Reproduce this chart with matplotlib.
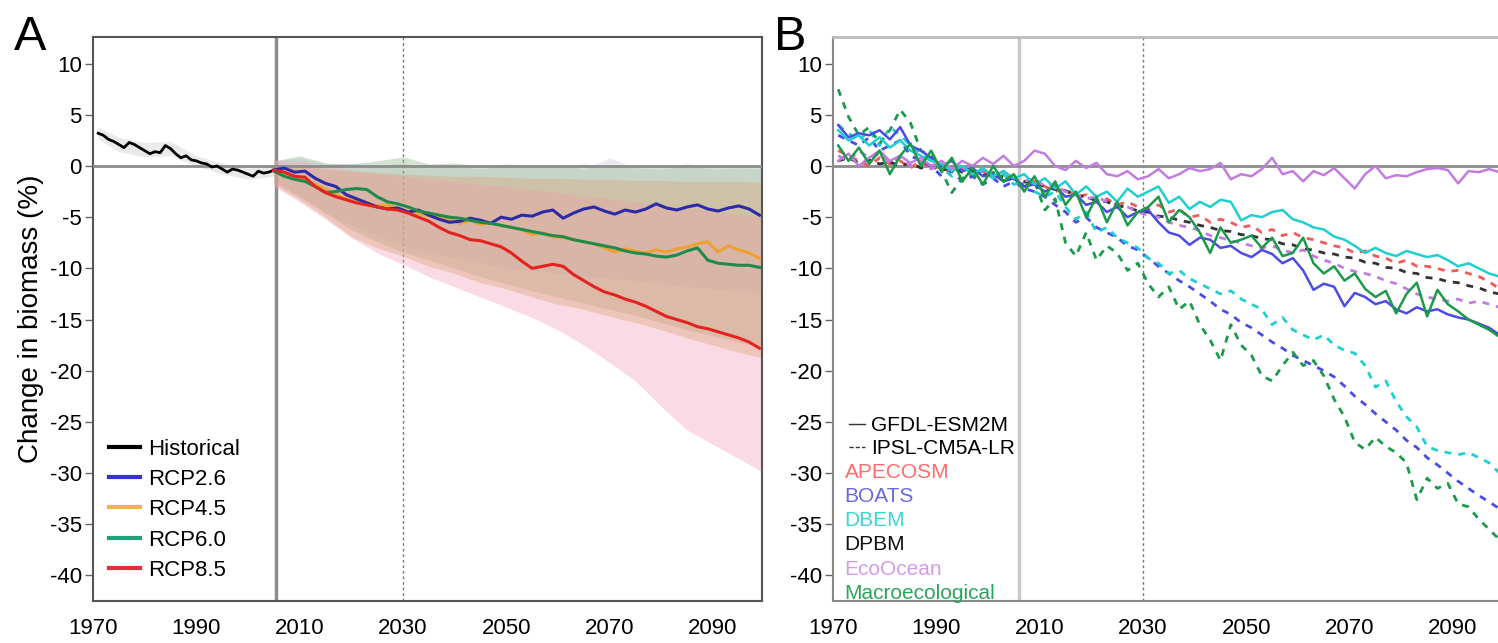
import numpy as np
import matplotlib
matplotlib.use("Agg")
import matplotlib.pyplot as plt
from matplotlib.lines import Line2D

plt.rcParams['font.family'] = ['Liberation Sans', 'DejaVu Sans']
plt.rcParams['axes.unicode_minus'] = False

# ---------------- Panel A data ----------------
hist_years = np.arange(1971, 2006)
hist = [3.2, 3.0, 2.6, 2.4, 2.1, 1.8, 2.3, 2.1, 1.8, 1.5,
        1.2, 1.4, 1.3, 2.0, 1.7, 1.2, 0.8, 1.0, 0.6, 0.5,
        0.3, 0.2, -0.1, 0.0, -0.3, -0.6, -0.3, -0.4, -0.6, -0.8,
        -1.0, -0.5, -0.7, -0.6, -0.4]
hist_band_years = [1971, 1975, 1980, 1985, 1990, 1995, 2000, 2005]
hist_upper = [3.8, 2.8, 2.3, 2.4, 1.0, 0.3, -0.2, 0.2]
hist_lower = [2.6, 1.4, 0.9, 1.0, 0.0, -0.8, -1.3, -1.0]

rcp_years = np.arange(2005, 2100, 2)
rcp26 = [-0.4, -0.2, -0.6, -0.5, -1.2, -1.7, -2.0, -2.8, -3.2, -3.6,
         -4.0, -4.2, -4.1, -4.5, -4.3, -4.8, -5.2, -5.5, -5.4, -5.1,
         -5.3, -5.6, -5.0, -5.2, -4.8, -4.9, -4.5, -4.3, -5.1, -4.6,
         -4.2, -4.0, -4.4, -4.7, -4.3, -4.5, -4.2, -3.7, -4.1, -4.3,
         -4.0, -3.8, -4.2, -4.4, -4.1, -3.9, -4.2, -4.8]
rcp45 = [-0.4, -0.8, -1.0, -1.5, -1.8, -2.3, -2.8, -3.2, -3.4, -3.6,
         -3.9, -3.8, -4.2, -4.5, -4.6, -4.9, -5.0, -5.2, -5.6, -5.3,
         -5.7, -5.5, -5.8, -6.0, -6.2, -6.7, -6.5, -6.9, -7.0, -7.2,
         -7.4, -7.6, -8.0, -8.4, -8.1, -8.3, -8.5, -8.2, -8.4, -8.1,
         -7.9, -7.6, -7.4, -8.4, -7.8, -8.2, -8.5, -9.0]
rcp60 = [-0.5, -1.0, -1.3, -1.5, -2.0, -2.6, -2.5, -2.3, -2.2, -2.3,
         -3.0, -3.5, -3.7, -4.0, -4.4, -4.6, -4.8, -5.0, -5.1, -5.3,
         -5.5, -5.6, -5.8, -6.0, -6.2, -6.4, -6.6, -6.8, -6.9, -7.2,
         -7.4, -7.6, -7.8, -8.0, -8.3, -8.5, -8.6, -8.8, -8.9, -8.7,
         -8.3, -8.0, -9.2, -9.5, -9.6, -9.7, -9.7, -9.9]
rcp85 = [-0.4, -0.6, -1.0, -1.1, -2.0, -2.6, -3.0, -3.3, -3.6, -3.8,
         -4.0, -4.2, -4.3, -4.6, -5.0, -5.4, -6.0, -6.5, -6.8, -7.2,
         -7.3, -7.6, -7.9, -8.5, -9.3, -10.0, -9.8, -9.6, -9.8, -10.6,
         -11.2, -11.8, -12.3, -12.6, -13.0, -13.3, -13.7, -14.2, -14.7, -15.0,
         -15.3, -15.7, -15.9, -16.2, -16.5, -16.8, -17.2, -17.8]

band_years = np.arange(2005, 2101, 5)
rcp26_up = [0.5, 0.8, 0.2, 0.3, 0.0, 0.3, -0.2, 0.0, -0.3, 0.0,
            -0.2, 0.2, -0.3, 0.8, -0.2, -0.3, 0.0, -0.3, -0.2, -0.3]
rcp26_lo = [-1.5, -3.0, -4.5, -5.8, -6.8, -7.8, -8.5, -9.0, -9.5, -10.0,
            -10.2, -10.5, -10.8, -11.0, -11.2, -11.5, -11.8, -12.0, -12.2, -12.5]
rcp45_up = [0.2, 0.0, -0.3, -0.5, -0.6, -0.8, -0.9, -1.0, -1.0, -1.1,
            -1.2, -1.2, -1.3, -1.3, -1.4, -1.4, -1.5, -1.5, -1.5, -1.6]
rcp45_lo = [-1.8, -3.3, -5.0, -6.9, -8.0, -8.8, -9.8, -10.5, -11.4, -12.0,
            -12.8, -13.5, -14.0, -14.7, -15.3, -16.0, -16.8, -17.5, -18.2, -18.8]
rcp60_up = [0.5, 1.0, 0.3, 0.2, 0.5, 0.9, 0.2, 0.3, 0.0, 0.2,
            0.1, 0.0, 0.2, 0.0, 0.1, 0.0, 0.2, 0.0, 0.1, 0.0]
rcp60_lo = [-1.6, -3.0, -4.6, -6.2, -7.4, -8.4, -9.2, -10.0, -10.8, -11.5,
            -12.2, -12.8, -13.4, -14.0, -14.6, -15.3, -16.0, -16.6, -17.2, -17.8]
rcp85_up = [0.6, 0.5, 0.0, -0.4, -0.8, -1.0, -1.3, -1.5, -1.8, -2.0,
            -2.3, -2.6, -2.9, -3.2, -3.5, -3.8, -4.1, -4.4, -4.7, -5.0]
rcp85_lo = [-2.0, -3.5, -5.2, -7.0, -8.5, -9.6, -10.8, -11.8, -12.8, -13.8,
            -14.8, -16.0, -17.5, -19.2, -21.0, -23.5, -25.8, -27.2, -28.6, -30.0]

# ---------------- Panel B data (2-year steps) ----------------
b_years = np.arange(1971, 2100, 2)
# GFDL-ESM2M forced (solid)
boats_gfdl = [4.0, 2.8, 3.2, 3.0, 3.5, 2.6, 3.8, 2.0, 1.5, 0.8,
              0.0, 0.5, -0.5, -0.2, -1.0, -0.8, -1.5, -1.2, -2.0, -1.8,
              -2.5, -2.0, -3.0, -2.8, -3.8, -3.5, -4.5, -4.0, -5.0, -4.5,
              -4.3, -5.5, -6.5, -6.8, -7.7, -7.0, -7.2, -8.0, -7.8, -8.5,
              -8.9, -8.2, -8.6, -9.5, -9.0, -10.2, -12.1, -11.5, -11.8, -13.7,
              -12.4, -12.8, -13.5, -13.2, -14.0, -14.4, -13.8, -14.2, -14.0, -14.5,
              -14.8, -15.0, -15.4, -15.8, -16.5]
dbem_gfdl = [3.5, 2.5, 3.0, 2.0, 2.8, 1.8, 2.5, 1.5, 1.0, 0.5,
             0.2, -0.5, 0.0, -0.8, -0.2, -1.0, -0.5, -1.2, -0.8, -1.8,
             -1.2, -2.2, -1.5, -2.8, -2.0, -3.0, -2.5, -3.5, -2.2, -3.0,
             -2.5, -2.0, -3.6, -3.0, -4.2, -3.5, -4.0, -3.3, -3.5, -5.3,
             -4.8, -5.0, -4.5, -4.3, -5.2, -5.5, -6.0, -6.2, -6.9, -7.2,
             -7.8, -8.5, -8.0, -8.5, -8.8, -8.3, -8.6, -8.9, -8.7, -9.2,
             -9.8, -9.5, -10.0, -10.5, -10.8]
eco_gfdl = [0.5, 1.2, 0.0, 0.8, 1.5, 0.5, 1.0, 0.3, 0.8, 0.0,
            0.5, -0.3, 0.5, 0.0, 0.8, 0.2, 1.0, 0.0, 0.5, 1.5,
            1.2, 0.0, -0.4, 0.5, -0.2, 0.3, -0.8, -1.0, -0.5, -1.3,
            -1.0, -0.3, -1.2, -0.8, -0.2, -0.5, -0.3, 0.3, -1.3, -0.8,
            -1.0, -0.3, 0.8, -0.8, -0.5, -1.5, -0.5, -0.9, -0.2, -1.2,
            -2.2, -0.8, 0.0, -1.2, -0.9, -1.0, -0.6, -0.3, -0.2, -0.4,
            -1.7, -0.5, -0.6, -0.3, -0.6]
macro_gfdl = [2.0, 0.5, 1.8, 0.2, 1.5, -0.8, 1.0, 2.2, 0.0, 1.5,
              -0.5, 0.8, -1.5, -0.2, -1.8, 0.0, -1.5, -0.8, -2.5, -1.0,
              -3.0, -1.5, -3.8, -2.5, -5.0, -3.0, -5.5, -3.5, -5.8, -4.5,
              -4.0, -3.0, -5.5, -4.3, -5.0, -6.5, -8.5, -6.0, -7.5, -7.2,
              -6.8, -8.0, -7.0, -8.8, -8.5, -7.0, -9.5, -10.5, -9.8, -11.2,
              -10.5, -12.0, -12.8, -12.2, -14.4, -12.5, -11.4, -14.7, -12.1, -13.5,
              -14.2, -15.0, -15.5, -16.0, -16.7]
# IPSL-CM5A-LR forced (dashed)
apecosm_ipsl = [1.5, 1.0, 0.5, 0.0, 0.8, 0.2, 0.5, -0.2, 0.5, -0.3,
                0.0, -0.8, -0.3, -1.0, -0.5, -1.2, -0.8, -1.5, -1.8, -1.5,
                -2.0, -2.5, -2.2, -3.0, -2.8, -3.5, -3.2, -3.8, -3.5, -4.0,
                -4.2, -3.8, -4.5, -4.2, -5.0, -4.8, -5.5, -5.2, -5.5, -6.0,
                -5.8, -6.5, -6.2, -6.8, -6.5, -7.0, -7.2, -7.5, -7.8, -8.0,
                -8.5, -8.3, -8.8, -9.0, -9.5, -9.2, -9.8, -9.8, -10.0, -10.3,
                -10.2, -10.5, -10.8, -11.3, -12.0]
boats_ipsl = [3.0, 2.5, 2.0, 2.8, 1.5, 2.0, 2.5, 1.0, 0.5, 0.0,
              -1.0, -0.5, -1.5, -1.0, -1.8, -1.2, -2.0, -1.5, -2.2, -2.5,
              -3.0, -3.8, -4.5, -5.5, -5.0, -6.0, -6.5, -7.0, -7.8, -8.2,
              -9.0, -9.8, -10.5, -11.2, -11.8, -12.5, -13.2, -14.0, -14.5, -15.3,
              -15.8, -16.5, -17.2, -17.8, -18.5, -19.0, -19.5, -20.0, -20.6, -21.5,
              -22.5, -23.3, -24.2, -25.0, -25.8, -26.8, -27.5, -28.5, -29.2, -30.0,
              -30.8, -31.5, -32.2, -32.8, -33.5]
dbem_ipsl = [4.0, 3.2, 2.5, 3.5, 2.0, 3.8, 3.0, 2.0, 1.2, 0.5,
             -0.2, -1.0, 0.2, -0.8, -0.5, -1.2, -0.8, -1.8, -1.5, -2.5,
             -3.0, -2.5, -4.0, -5.2, -4.5, -6.5, -6.0, -7.0, -7.5, -8.0,
             -9.0, -9.5, -10.5, -10.2, -11.0, -11.5, -12.0, -12.5, -12.2, -13.0,
             -13.5, -14.0, -15.5, -14.8, -16.0, -16.5, -17.0, -16.5, -17.5, -18.0,
             -18.3, -19.5, -21.6, -21.0, -23.0, -24.5, -25.5, -27.4, -27.8, -28.0,
             -28.2, -28.0, -28.5, -29.0, -30.0]
dpbm_ipsl = [0.5, 0.8, 0.3, 0.6, 0.2, 0.4, 0.0, 0.3, -0.2, 0.0,
             -0.4, -0.2, -0.6, -0.5, -0.9, -0.8, -1.1, -1.2, -1.5, -1.7,
             -2.0, -2.3, -2.4, -2.9, -3.0, -3.4, -3.5, -3.9, -4.0, -4.4,
             -4.5, -4.9, -5.0, -5.3, -5.5, -5.8, -6.0, -6.3, -6.4, -6.7,
             -6.8, -7.1, -7.2, -7.6, -7.7, -8.1, -8.2, -8.5, -8.6, -8.9,
             -9.0, -9.4, -9.5, -9.9, -10.0, -10.4, -10.5, -10.9, -11.0, -11.3,
             -11.4, -11.7, -11.9, -12.3, -12.5]
eco_ipsl = [1.0, 0.5, 1.5, 0.8, 1.2, 0.3, 0.8, 0.0, 0.5, -0.3,
            0.2, -0.5, 0.0, -0.8, -0.3, -1.0, -0.5, -1.3, -1.5, -1.2,
            -2.0, -1.8, -2.5, -2.8, -3.2, -3.0, -3.5, -3.8, -4.0, -4.5,
            -4.8, -5.0, -5.5, -5.8, -6.0, -6.3, -6.8, -7.0, -7.3, -7.5,
            -7.8, -8.0, -7.8, -8.2, -8.5, -8.2, -8.8, -9.2, -9.5, -10.0,
            -10.3, -10.5, -10.8, -11.2, -11.5, -12.0, -12.5, -12.8, -13.0, -13.2,
            -13.0, -13.4, -13.2, -13.5, -13.8]
macro_ipsl = [7.5, 4.8, 3.0, 3.8, 2.2, 3.5, 5.5, 4.2, 1.5, 1.0,
              -0.5, -2.6, -1.2, -0.8, -1.8, -0.6, -1.5, -1.2, -2.0, -1.5,
              -4.3, -3.2, -7.5, -8.8, -6.5, -9.2, -7.8, -8.5, -10.2, -9.5,
              -11.5, -12.8, -11.8, -14.0, -13.2, -15.5, -17.0, -19.0, -15.5, -17.5,
              -18.5, -20.5, -21.0, -19.5, -18.2, -19.5, -19.0, -20.5, -22.8, -24.5,
              -27.0, -27.7, -26.5, -27.4, -28.0, -29.0, -32.6, -30.5, -31.5, -31.0,
              -33.0, -33.3, -34.5, -35.5, -36.5]

model_names = ["APECOSM", "BOATS", "DBEM", "DPBM", "EcoOcean", "Macroecological"]
model_colors = ["#f25a5a", "#4b4be6", "#1fcfcf", "#333333", "#c27ce0", "#1a9a4a"]
text_colors = ["#ff6b6b", "#6a6ae0", "#3ad6d6", "#111111", "#d49ae8", "#2aa55a"]

rcp_names = ["RCP2.6", "RCP4.5", "RCP6.0", "RCP8.5"]
rcp_colors = ["#2b2ba8", "#f0a030", "#1f8a4c", "#e3231f"]
band_colors = ["#a0a0c8", "#d8a070", "#8fb488", "#f4a8c0"]
band_alpha = [0.22, 0.36, 0.38, 0.42]

# ---------------- figure ----------------
fig = plt.figure(figsize=(14.98, 6.43), dpi=100)
axA = fig.add_axes([0.0621, 0.0653, 0.4466, 0.8771])
axB = fig.add_axes([0.5561, 0.0653, 0.4466, 0.8771])

yticks = np.arange(-40, 11, 5)
xticks = np.arange(1970, 2091, 20)

for ax in (axA, axB):
    ax.set_xlim(1970, 2099.5)
    ax.set_ylim(-42.5, 12.6)
    ax.set_yticks(yticks)
    ax.set_xticks(xticks)
    ax.tick_params(axis='y', length=6, width=1, color='#666666', pad=2, labelsize=16)
    ax.tick_params(axis='x', length=0, pad=12, labelsize=16)
    ax.axvline(2030, color='#777777', lw=1, ls=(0, (2, 2)), zorder=1)

# Panel A
axA.axvline(2005.5, color='#8c8c8c', lw=2.5, zorder=1)
axA.fill_between(hist_band_years, hist_lower, hist_upper, color='#cccccc', alpha=0.4, lw=0)
bands = [(rcp26_lo, rcp26_up), (rcp60_lo, rcp60_up), (rcp85_lo, rcp85_up), (rcp45_lo, rcp45_up)]
b_cols = [band_colors[0], band_colors[2], band_colors[3], band_colors[1]]
b_alph = [band_alpha[0], band_alpha[2], band_alpha[3], band_alpha[1]]
for (lo, up), c, a in zip(bands, b_cols, b_alph):
    axA.fill_between(band_years, lo, up, color=c, alpha=a, lw=0, zorder=2)
axA.axhline(0, color='#8c8c8c', lw=2, zorder=3)
axA.plot(hist_years, hist, color='black', lw=2, zorder=5)
axA.plot(rcp_years, rcp45, color=rcp_colors[1], lw=2.2, zorder=5)
axA.plot(rcp_years, rcp26, color=rcp_colors[0], lw=2.2, zorder=5)
axA.plot(rcp_years, rcp60, color=rcp_colors[2], lw=2.2, zorder=5)
axA.plot(rcp_years, rcp85, color=rcp_colors[3], lw=2.2, zorder=5)
leg_colors = ['black', '#3434c8', '#f0b050', '#22a07a', '#e0303a']
legA_handles = [Line2D([], [], color=c, lw=3) for c in leg_colors]
axA.legend(legA_handles, ['Historical'] + rcp_names, loc='lower left',
           bbox_to_anchor=(0.01, 0.02), frameon=False, fontsize=16,
           handlelength=1.4, handletextpad=0.4, labelspacing=0.42, borderaxespad=0)
for s in axA.spines.values():
    s.set_color('#555555')
    s.set_linewidth(1.5)

axA.set_ylabel('Change in biomass (%)', fontsize=20, labelpad=4)

# Panel B
axB.axvline(2006, color='#c8c8c8', lw=2.5, zorder=1)
axB.axhline(0, color='#8c8c8c', lw=2, zorder=1)
gfdl = [None, boats_gfdl, dbem_gfdl, None, eco_gfdl, macro_gfdl]
ipsl = [apecosm_ipsl, boats_ipsl, dbem_ipsl, dpbm_ipsl, eco_ipsl, macro_ipsl]
for vals, c in zip(ipsl, model_colors):
    axB.plot(b_years, vals, color=c, lw=2, ls=(0, (2.5, 2.5)), zorder=3)
for vals, c in zip(gfdl, model_colors):
    if vals is not None:
        axB.plot(b_years, vals, color=c, lw=1.8, zorder=4)

leg1 = axB.legend([Line2D([], [], color='#333333', lw=1),
                   Line2D([], [], color='#333333', lw=1, ls=(0, (3, 1.5)))],
                  ['GFDL-ESM2M', 'IPSL-CM5A-LR'], loc='lower left',
                  bbox_to_anchor=(0.012, 0.238), frameon=False, fontsize=15,
                  handlelength=0.75, handletextpad=0.3, labelspacing=0.2, borderaxespad=0)
axB.add_artist(leg1)
blank = [Line2D([], [], lw=0) for _ in model_names]
axB.legend(blank, model_names, loc='lower left', bbox_to_anchor=(0.005, -0.018),
           frameon=False, fontsize=15, handlelength=0, handletextpad=0,
           labelspacing=0.25, borderaxespad=0, labelcolor=text_colors)
axB.spines['top'].set_color('#bbbbbb')
axB.spines['left'].set_color('#888888')
axB.spines['bottom'].set_color('#888888')
axB.spines['right'].set_color('#bbbbbb')
for s in axB.spines.values():
    s.set_linewidth(1.5)
axB.spines['top'].set_linewidth(2)

fig.text(0.009, 0.922, 'A', fontsize=35, va='baseline')
fig.text(0.517, 0.922, 'B', fontsize=35, va='baseline')

fig.savefig('out.png', dpi=100)
